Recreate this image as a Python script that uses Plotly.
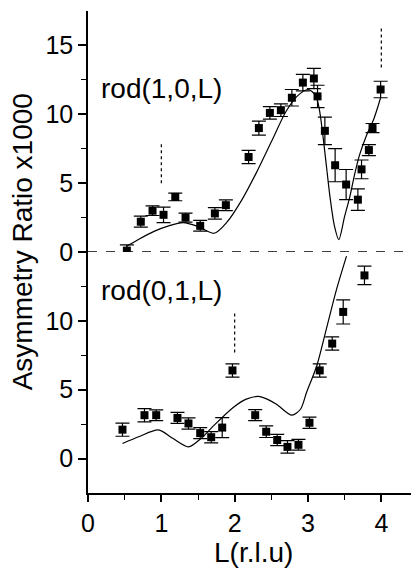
import plotly.graph_objects as go

# ---- rod(1,0,L) : top panel ----
L_10 = [0.53, 0.72, 0.88, 1.03, 1.19, 1.33, 1.53, 1.73, 1.88, 2.19, 2.33, 2.48, 2.63, 2.78,
        2.93, 3.08, 3.13, 3.23, 3.37, 3.52, 3.68, 3.73, 3.83, 3.88, 3.99]
A_10 = [0.1, 2.2, 3.0, 2.7, 4.0, 2.5, 1.9, 2.8, 3.4, 6.9, 9.0, 10.1, 10.3, 11.2,
        12.3, 12.6, 11.3, 8.8, 6.3, 4.9, 3.8, 6.0, 7.4, 9.0, 11.8]
E_10 = [0.42, 0.40, 0.35, 0.56, 0.28, 0.33, 0.39, 0.42, 0.39, 0.48, 0.51, 0.45, 0.46, 0.60,
        0.60, 0.73, 0.81, 1.00, 1.20, 1.09, 0.78, 0.68, 0.40, 0.33, 0.60]
fitL_10 = [0.52, 0.70, 0.90, 1.10, 1.30, 1.50, 1.72, 1.90, 2.10, 2.30, 2.50, 2.70, 2.85, 3.00,
           3.10, 3.15, 3.20, 3.25, 3.30, 3.36, 3.42, 3.50, 3.57, 3.63, 3.70, 3.80, 3.90, 3.99]
fitA_10 = [0.4, 0.95, 1.5, 1.9, 2.13, 1.85, 1.36, 2.2, 3.8, 5.8, 8.0, 10.2, 11.3, 11.8,
           11.4, 10.5, 8.6, 6.3, 4.0, 1.9, 0.9, 2.6, 4.0, 5.5, 7.0, 8.5, 9.7, 11.2]
mark_10 = [(1.0, 5.0, 7.9), (4.0, 13.4, 16.3)]

# ---- rod(0,1,L) : bottom panel ----
L_01 = [0.47, 0.77, 0.93, 1.22, 1.37, 1.53, 1.68, 1.83, 1.97, 2.28, 2.43, 2.58, 2.72, 2.87,
        3.02, 3.16, 3.33, 3.48, 3.77]
A_01 = [2.1, 3.15, 3.15, 2.95, 2.55, 1.85, 1.55, 2.25, 6.4, 3.15, 1.95, 1.35, 0.85, 1.0,
        2.6, 6.4, 8.35, 10.65, 13.3]
E_01 = [0.48, 0.48, 0.39, 0.40, 0.41, 0.40, 0.41, 0.73, 0.48, 0.40, 0.42, 0.41, 0.46, 0.39,
        0.41, 0.48, 0.48, 0.88, 0.67]
fitL_01 = [0.47, 0.70, 0.96, 1.16, 1.37, 1.55, 1.71, 1.98, 2.15, 2.32, 2.45, 2.57, 2.78, 2.90,
           2.98, 3.12, 3.25, 3.39, 3.525]
fitA_01 = [1.09, 1.6, 2.08, 1.45, 0.85, 1.5, 2.37, 3.71, 4.3, 4.51, 4.3, 3.95, 3.15, 3.6,
           4.8, 6.74, 9.4, 12.3, 14.7]
mark_01 = [(2.0, 7.7, 10.6)]

x_ticks = [0, 1, 2, 3, 4]
y_ticks_top = [0, 5, 10, 15]
y_ticks_bot = [0, 5, 10]

FONT = "Liberation Sans, Arial, sans-serif"
fig = go.Figure()

def add_panel(L, A, E, fL, fA, marks, yax):
    fig.add_trace(go.Scatter(x=fL, y=fA, mode="lines", line=dict(color="black", width=1.2, shape="spline", smoothing=0.8),
                             xaxis="x", yaxis=yax, hoverinfo="skip", showlegend=False))
    fig.add_trace(go.Scatter(x=L, y=A, mode="markers",
                             marker=dict(symbol="square", size=8, color="black"),
                             error_y=dict(type="data", array=E, color="black", thickness=1.2, width=7),
                             xaxis="x", yaxis=yax, showlegend=False))
    for (xm, y0, y1) in marks:
        fig.add_trace(go.Scatter(x=[xm, xm], y=[y0, y1], mode="lines",
                                 line=dict(color="black", width=1.2, dash="dot"),
                                 xaxis="x", yaxis=yax, hoverinfo="skip", showlegend=False))

add_panel(L_01, A_01, E_01, fitL_01, fitA_01, mark_01, "y")
add_panel(L_10, A_10, E_10, fitL_10, fitA_10, mark_10, "y2")

ax_common = dict(showgrid=False, zeroline=False, linecolor="black", linewidth=1.5,
                 tickcolor="black", tickwidth=1.5, automargin=False,
                 tickfont=dict(family=FONT, size=25, color="black"))
minor_out = dict(ticks="outside", ticklen=5, tickcolor="black", tickwidth=1.2)
minor_in = dict(ticks="inside", ticklen=5, tickcolor="black", tickwidth=1.2)

fig.update_layout(
    width=411, height=568,
    margin=dict(l=80, r=1, t=3, b=83),
    paper_bgcolor="white", plot_bgcolor="white",
    xaxis=dict(range=[0, 4.5], domain=[0, 1], anchor="y", tickvals=x_ticks, ticks="outside", ticklen=7,
               minor=dict(tickvals=[0.5, 1.5, 2.5, 3.5], **minor_out), **ax_common),
    yaxis=dict(range=[-2.5, 15], domain=[0, 0.5], anchor="x", tickvals=y_ticks_bot, ticks="outside", ticklen=8,
               minor=dict(tickvals=[2.5, 7.5, 12.5], **minor_out), **ax_common),
    yaxis2=dict(range=[0, 17.5], domain=[0.5, 1], anchor="x", tickvals=y_ticks_top, ticks="outside", ticklen=8,
                minor=dict(tickvals=[2.5, 7.5, 12.5], **minor_out), **ax_common),
    xaxis2=dict(range=[0, 4.5], overlaying="x", side="top", anchor="y2", tickvals=x_ticks, ticks="inside",
                ticklen=7, showticklabels=False,
                minor=dict(tickvals=[0.5, 1.5, 2.5, 3.5], **minor_in), **ax_common),
    yaxis3=dict(range=[0, 17.5], overlaying="y2", side="right", anchor="x", tickvals=y_ticks_top, ticks="inside",
                ticklen=7, showticklabels=False,
                minor=dict(tickvals=[2.5, 7.5, 12.5], **minor_in), **ax_common),
    yaxis4=dict(range=[-2.5, 15], overlaying="y", side="right", anchor="x", tickvals=y_ticks_bot, ticks="inside",
                ticklen=7, showticklabels=False,
                minor=dict(tickvals=[2.5, 7.5, 12.5], **minor_in), **ax_common),
    shapes=[dict(type="line", xref="x", yref="y2", x0=0, x1=4.5, y0=0, y1=0,
                 line=dict(color="black", width=1.3, dash="dash"))],
    annotations=[
        dict(text="rod(1,0,L)", xref="x", yref="y2", x=0.15, y=11.9, xanchor="left", yanchor="middle",
             showarrow=False, font=dict(family=FONT, size=28, color="black")),
        dict(text="rod(0,1,L)", xref="x", yref="y", x=0.15, y=12.2, xanchor="left", yanchor="middle",
             showarrow=False, font=dict(family=FONT, size=28, color="black")),
        dict(text="Asymmetry Ratio x1000", xref="paper", yref="paper", x=0, y=0.52, xshift=-66,
             xanchor="center", yanchor="middle", textangle=-90, showarrow=False,
             font=dict(family=FONT, size=28, color="black")),
        dict(text="L(r.l.u)", xref="paper", yref="paper", x=0.503, y=-0.124,
             xanchor="center", yanchor="middle", showarrow=False,
             font=dict(family=FONT, size=28, color="black")),
    ],
)

fig.write_html("out.html")
